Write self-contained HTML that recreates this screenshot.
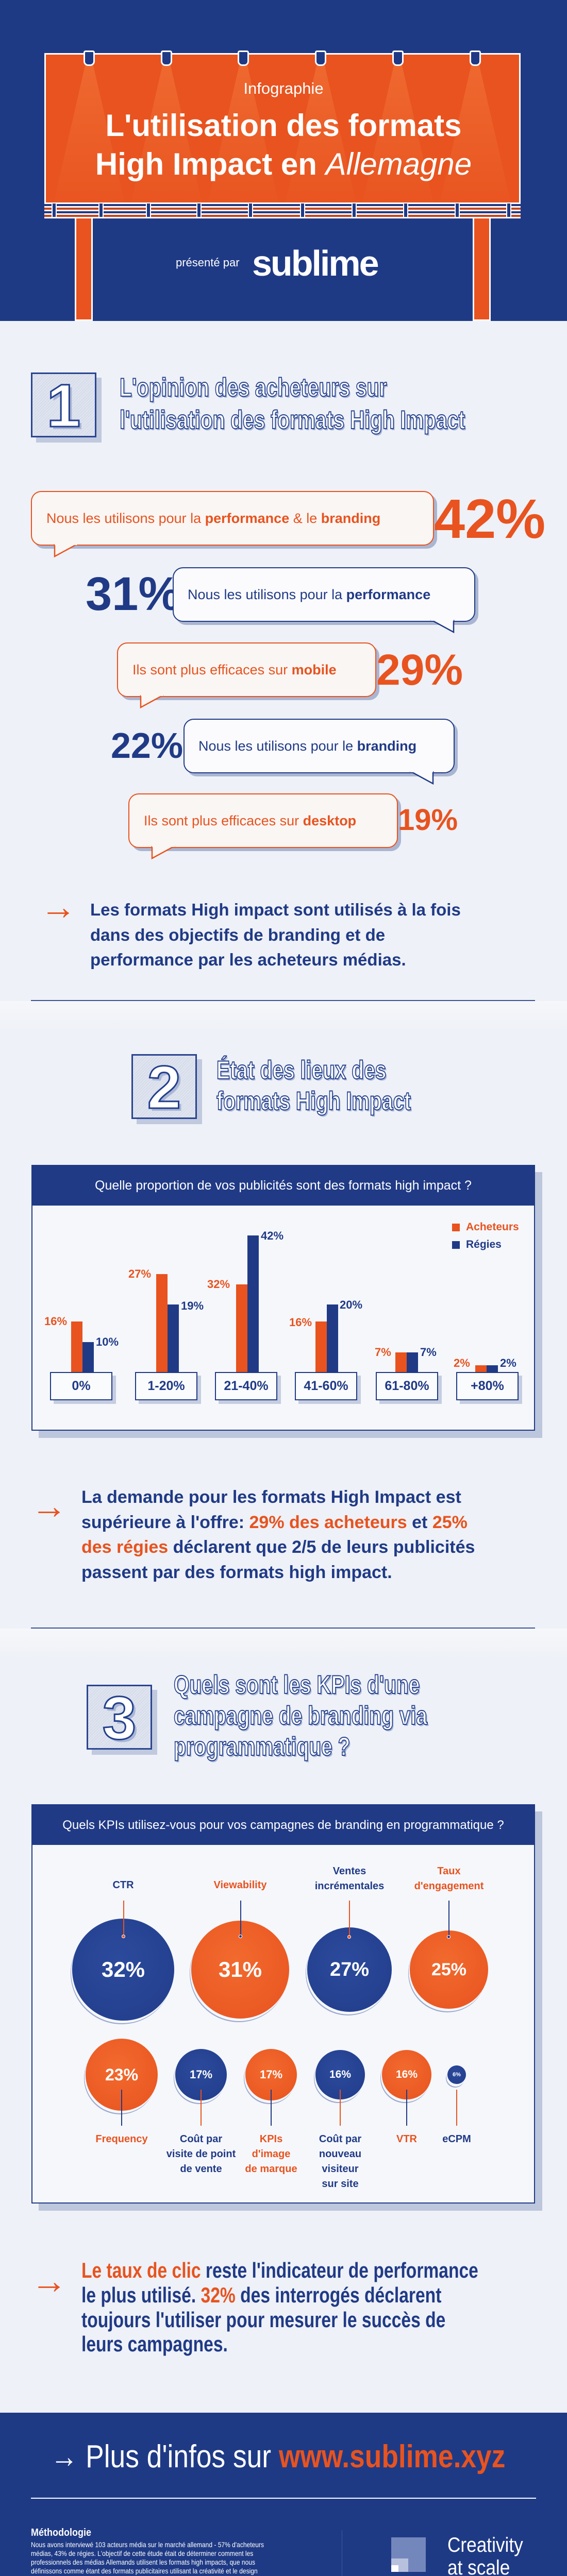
<!DOCTYPE html>
<html><head><meta charset="utf-8">
<style>
*{margin:0;padding:0;box-sizing:border-box}
html{width:1100px;height:5079px;overflow:hidden}
body{width:1100px;height:5079px;position:relative;overflow:hidden;font-family:"Liberation Sans",sans-serif;background:#eef1f7}
.a{position:absolute}
.nw{white-space:nowrap}
.blue{color:#203a86}.or{color:#e8531f}
.hero{left:0;top:0;width:1100px;height:623px;background:#1f3a85}
.bb{left:86px;top:103px;width:924px;height:321px;background:#e8531f;border:3px solid #fff}
.lamp{width:22px;height:30px;background:#1f3a85;border:3px solid #fff;border-radius:4px 4px 9px 9px;top:98px}
.cone{top:125px;width:150px;height:295px;background:linear-gradient(#f47a3c,rgba(240,110,50,0));clip-path:polygon(45% 0,55% 0,100% 100%,0 100%);opacity:.55}
.band{left:86px;top:393px;width:924px;height:30px;background:repeating-linear-gradient(#fff 0 3px,#1f3a85 3px 7px,#fff 7px 10px,#c8441b 10px 14px)}
.post{top:393px;width:10px;height:30px;background:#1f3a85;border:2px solid #fff}
.leg{top:424px;width:35px;height:199px;background:#e8531f;border:3px solid #fff;border-top:none}
.nbox{width:127px;height:126px;border:3px solid #2a4590;background:repeating-linear-gradient(135deg,#dfe4ef 0 3px,#cfd6e7 3px 4px);box-shadow:10px 10px 0 #c0c9de}
.nbox span{position:absolute;left:0;right:0;text-align:center;top:2px;font-size:118px;font-weight:900;color:#fff;-webkit-text-stroke:3px #233f8c;text-shadow:5px 5px 0 #a9b6d6;line-height:120px}
.ttl{font-weight:900;color:#fff;-webkit-text-stroke:2px #233f8c;text-shadow:3px 3px 0 #a9b6d6;font-size:50px;line-height:50px;transform-origin:left center}
.bub{height:106px;border-radius:20px;border:2.5px solid;background:#faf6f3;display:flex;align-items:center;font-size:27px;white-space:nowrap}
.bo{border-color:#e8531f;color:#e8531f;box-shadow:6px 6px 0 #aab5d2}
.bl{border-color:#203a86;color:#203a86;background:#fbfbfd;box-shadow:6px 6px 0 #aab5d2}
.pct{font-weight:700;line-height:1}
.card{left:61px;width:977px;border:2px solid #203a86;background:#f5f7fb;box-shadow:14px 14px 0 #bcc6dc}
.chd{background:#203a86;color:#fff;font-size:25px;text-align:center;display:flex;align-items:center;justify-content:center}
.bar{width:22px}
.lb{font-size:22px;font-weight:700;line-height:22px}
.xb{top:2663px;height:55px;border:2px solid #203a86;background:#fafbfd;box-shadow:7px 7px 0 #c5cde0;color:#203a86;font-weight:700;font-size:25px;display:flex;align-items:center;justify-content:center}
.bt{font-weight:700;color:#203a86;white-space:nowrap;transform-origin:left center}
.arr{font-size:70px;color:#e8531f;font-weight:700;line-height:1}
.c{border-radius:50%;display:flex;align-items:center;justify-content:center;color:#fff;font-weight:700;box-shadow:-2px 5px 0 #f5f7fb,-3px 7px 0 #9aa8cc}
.cb{background:radial-gradient(circle at 45% 40%,#2c4a9c,#213c8a)}
.co{background:radial-gradient(circle at 45% 40%,#f26a2e,#e8531f)}
.kl{font-weight:700;font-size:20px;text-align:center;line-height:29px;white-space:nowrap;transform:translateX(-50%)}
.vl{width:2px}
.dot{width:7px;height:7px;border-radius:50%;border:1.5px solid #fff}
</style></head><body>

<div class="a hero"></div>
<div class="a leg" style="left:145px"></div>
<div class="a leg" style="left:917px"></div>
<div class="a bb"></div>
<div class="a cone" style="left:98px"></div>
<div class="a cone" style="left:248px"></div>
<div class="a cone" style="left:397px"></div>
<div class="a cone" style="left:547px"></div>
<div class="a cone" style="left:697px"></div>
<div class="a cone" style="left:847px"></div>
<div class="a lamp" style="left:162px"></div>
<div class="a lamp" style="left:312px"></div>
<div class="a lamp" style="left:461px"></div>
<div class="a lamp" style="left:611px"></div>
<div class="a lamp" style="left:761px"></div>
<div class="a lamp" style="left:911px"></div>
<div class="a band"></div>
<div class="a post" style="left:100px"></div><div class="a post" style="left:191px"></div><div class="a post" style="left:283px"></div><div class="a post" style="left:381px"></div><div class="a post" style="left:481px"></div><div class="a post" style="left:582px"></div><div class="a post" style="left:682px"></div><div class="a post" style="left:782px"></div><div class="a post" style="left:882px"></div><div class="a post" style="left:982px"></div>
<div class="a nw" style="left:0;width:1100px;text-align:center;top:154px;font-size:31px;color:#fff">Infographie</div>
<div class="a nw" style="left:0;width:1100px;text-align:center;top:206px;font-size:60px;line-height:75px;color:#fff;font-weight:700">L'utilisation des formats<br>High Impact en <i style="font-weight:400">Allemagne</i></div>
<div class="a nw" style="left:341px;top:497px;font-size:22px;color:#fff">présenté par</div>
<div class="a nw" style="left:489px;top:474px;font-size:70px;color:#fff;font-weight:700;letter-spacing:-3px;line-height:74px">sublime</div>

<div class="a nbox" style="left:60px;top:723px"><span>1</span></div>
<div class="a nw ttl" style="left:232px;top:727px;transform:scaleX(0.78)">L'opinion des acheteurs sur</div>
<div class="a nw ttl" style="left:232px;top:790px;transform:scaleX(0.78)">l'utilisation des formats High Impact</div>

<div class="a bub bo" style="left:60px;top:953px;width:782px;padding-left:28px">Nous les utilisons pour la&nbsp;<b>performance</b>&nbsp;&amp; le&nbsp;<b>branding</b></div>
<svg class="a" style="left:100px;top:1056px" width="60" height="30"><polygon points="6,0 6,24 50,0" fill="#faf6f3" stroke="#e8531f" stroke-width="2.5"/><line x1="6" y1="0" x2="50" y2="0" stroke="#faf6f3" stroke-width="4"/></svg>
<div class="a pct or nw" style="left:842px;top:953px;font-size:108px">42%</div>

<div class="a pct blue nw" style="left:166px;top:1107px;font-size:92px">31%</div>
<div class="a bub bl" style="left:335px;top:1101px;width:587px;padding-left:27px">Nous les utilisons pour la&nbsp;<b>performance</b></div>
<svg class="a" style="left:830px;top:1203px" width="60" height="30"><polygon points="50,0 50,24 6,0" fill="#fbfbfd" stroke="#203a86" stroke-width="2.5"/><line x1="6" y1="0" x2="50" y2="0" stroke="#fbfbfd" stroke-width="4"/></svg>

<div class="a bub bo" style="left:227px;top:1247px;width:503px;padding-left:28px">Ils sont plus efficaces sur&nbsp;<b>mobile</b></div>
<svg class="a" style="left:267px;top:1349px" width="60" height="30"><polygon points="6,0 6,24 50,0" fill="#faf6f3" stroke="#e8531f" stroke-width="2.5"/><line x1="6" y1="0" x2="50" y2="0" stroke="#faf6f3" stroke-width="4"/></svg>
<div class="a pct or nw" style="left:730px;top:1258px;font-size:84px">29%</div>

<div class="a pct blue nw" style="left:215px;top:1412px;font-size:70px">22%</div>
<div class="a bub bl" style="left:356px;top:1395px;width:526px;padding-left:27px">Nous les utilisons pour le&nbsp;<b>branding</b></div>
<svg class="a" style="left:790px;top:1497px" width="60" height="30"><polygon points="50,0 50,24 6,0" fill="#fbfbfd" stroke="#203a86" stroke-width="2.5"/><line x1="6" y1="0" x2="50" y2="0" stroke="#fbfbfd" stroke-width="4"/></svg>

<div class="a bub bo" style="left:249px;top:1540px;width:523px;padding-left:28px">Ils sont plus efficaces sur&nbsp;<b>desktop</b></div>
<svg class="a" style="left:289px;top:1642px" width="60" height="30"><polygon points="6,0 6,24 50,0" fill="#faf6f3" stroke="#e8531f" stroke-width="2.5"/><line x1="6" y1="0" x2="50" y2="0" stroke="#faf6f3" stroke-width="4"/></svg>
<div class="a pct or nw" style="left:772px;top:1563px;font-size:58px">19%</div>

<div class="a arr" style="left:78px;top:1725px">→</div>
<div class="a bt" style="left:175px;top:1742px;font-size:33px;line-height:48.5px">Les formats High impact sont utilisés à la fois<br>dans des objectifs de branding et de<br>performance par les acheteurs médias.</div>

<div class="a" style="left:60px;top:1941px;width:978px;height:2px;background:#3a5397"></div>
<div class="a" style="left:0;top:1943px;width:1100px;height:60px;background:linear-gradient(#f6f7fa,#eef1f7)"></div>

<div class="a nbox" style="left:255px;top:2046px"><span>2</span></div>
<div class="a nw ttl" style="left:420px;top:2052px;transform:scaleX(0.78)">État des lieux des</div>
<div class="a nw ttl" style="left:420px;top:2112px;transform:scaleX(0.78)">formats High Impact</div>

<div class="a card" style="top:2261px;height:516px">
 <div class="chd" style="height:77px">Quelle proportion de vos publicités sont des formats high impact ?</div>
</div>
<div class="a" style="left:877px;top:2375px;width:15px;height:15px;background:#e8531f"></div>
<div class="a or nw" style="left:904px;top:2370px;font-size:21px;font-weight:700">Acheteurs</div>
<div class="a" style="left:877px;top:2409px;width:15px;height:15px;background:#203a86"></div>
<div class="a blue nw" style="left:904px;top:2404px;font-size:21px;font-weight:700">Régies</div>

<div class="a bar" style="left:138px;top:2565px;height:98px;background:#e8531f"></div>
<div class="a bar" style="left:160px;top:2605px;height:58px;background:#203a86"></div>
<div class="a lb or nw" style="left:86px;top:2554px">16%</div>
<div class="a lb blue nw" style="left:186px;top:2594px">10%</div>

<div class="a bar" style="left:303px;top:2473px;height:190px;background:#e8531f"></div>
<div class="a bar" style="left:325px;top:2532px;height:131px;background:#203a86"></div>
<div class="a lb or nw" style="left:249px;top:2462px">27%</div>
<div class="a lb blue nw" style="left:351px;top:2524px">19%</div>

<div class="a bar" style="left:458px;top:2493px;height:170px;background:#e8531f"></div>
<div class="a bar" style="left:480px;top:2398px;height:265px;background:#203a86"></div>
<div class="a lb or nw" style="left:402px;top:2482px">32%</div>
<div class="a lb blue nw" style="left:506px;top:2388px">42%</div>

<div class="a bar" style="left:612px;top:2565px;height:98px;background:#e8531f"></div>
<div class="a bar" style="left:634px;top:2532px;height:131px;background:#203a86"></div>
<div class="a lb or nw" style="left:561px;top:2556px">16%</div>
<div class="a lb blue nw" style="left:659px;top:2522px">20%</div>

<div class="a bar" style="left:767px;top:2625px;height:38px;background:#e8531f"></div>
<div class="a bar" style="left:789px;top:2625px;height:38px;background:#203a86"></div>
<div class="a lb or nw" style="left:727px;top:2614px">7%</div>
<div class="a lb blue nw" style="left:815px;top:2614px">7%</div>

<div class="a bar" style="left:922px;top:2650px;height:13px;background:#e8531f"></div>
<div class="a bar" style="left:944px;top:2650px;height:13px;background:#203a86"></div>
<div class="a lb or nw" style="left:880px;top:2635px">2%</div>
<div class="a lb blue nw" style="left:970px;top:2635px">2%</div>

<div class="a xb" style="left:97px;width:121px">0%</div>
<div class="a xb" style="left:262px;width:121px">1-20%</div>
<div class="a xb" style="left:417px;width:121px">21-40%</div>
<div class="a xb" style="left:572px;width:121px">41-60%</div>
<div class="a xb" style="left:729px;width:121px">61-80%</div>
<div class="a xb" style="left:885px;width:121px">+80%</div>

<div class="a arr" style="left:60px;top:2888px">→</div>
<div class="a bt" style="left:158px;top:2882px;font-size:34px;line-height:48.5px">La demande pour les formats High Impact est<br>supérieure à l'offre: <span class="or">29% des acheteurs</span> et <span class="or">25%</span><br><span class="or">des régies</span> déclarent que 2/5 de leurs publicités<br>passent par des formats high impact.</div>

<div class="a" style="left:60px;top:3159px;width:978px;height:2px;background:#3a5397"></div>
<div class="a" style="left:0;top:3161px;width:1100px;height:60px;background:linear-gradient(#f6f7fa,#eef1f7)"></div>

<div class="a nbox" style="left:168px;top:3270px"><span>3</span></div>
<div class="a nw ttl" style="left:337px;top:3245px;transform:scaleX(0.78)">Quels sont les KPIs d'une</div>
<div class="a nw ttl" style="left:337px;top:3305px;transform:scaleX(0.78)">campagne de branding via</div>
<div class="a nw ttl" style="left:337px;top:3365px;transform:scaleX(0.78)">programmatique ?</div>

<div class="a card" style="top:3502px;height:775px">
 <div class="chd" style="height:77px;font-size:24px">Quels KPIs utilisez-vous pour vos campagnes de branding en programmatique ?</div>
</div>

<div class="a kl blue" style="left:239px;top:3645px">CTR</div>
<div class="a kl or" style="left:466px;top:3645px">Viewability</div>
<div class="a kl blue" style="left:678px;top:3618px">Ventes<br>incrémentales</div>
<div class="a kl or" style="left:871px;top:3618px">Taux<br>d'engagement</div>

<div class="a c cb" style="left:140px;top:3724px;width:198px;height:198px;font-size:42px">32%</div>
<div class="a c co" style="left:371px;top:3728px;width:190px;height:190px;font-size:42px">31%</div>
<div class="a c cb" style="left:596px;top:3741px;width:164px;height:164px;font-size:38px">27%</div>
<div class="a c co" style="left:795px;top:3747px;width:152px;height:152px;font-size:34px">25%</div>

<div class="a vl" style="left:239px;top:3689px;height:69px;background:#e8531f"></div>
<div class="a dot" style="left:236px;top:3755px;background:#e8531f"></div>
<div class="a vl" style="left:466px;top:3689px;height:69px;background:#203a86"></div>
<div class="a dot" style="left:463px;top:3755px;background:#203a86"></div>
<div class="a vl" style="left:677px;top:3689px;height:69px;background:#e8531f"></div>
<div class="a dot" style="left:674px;top:3756px;background:#e8531f"></div>
<div class="a vl" style="left:870px;top:3689px;height:69px;background:#203a86"></div>
<div class="a dot" style="left:867px;top:3756px;background:#203a86"></div>

<div class="a c co" style="left:166px;top:3957px;width:140px;height:140px;font-size:32px">23%</div>
<div class="a c cb" style="left:340px;top:3977px;width:100px;height:100px;font-size:22px">17%</div>
<div class="a c co" style="left:476px;top:3977px;width:100px;height:100px;font-size:22px">17%</div>
<div class="a c cb" style="left:612px;top:3979px;width:96px;height:96px;font-size:21px">16%</div>
<div class="a c co" style="left:741px;top:3979px;width:96px;height:96px;font-size:21px">16%</div>
<div class="a c cb" style="left:868px;top:4009px;width:36px;height:36px;font-size:11px">6%</div>

<div class="a vl" style="left:235px;top:4056px;height:70px;background:#203a86"></div>
<div class="a vl" style="left:389px;top:4056px;height:70px;background:#e8531f"></div>
<div class="a vl" style="left:525px;top:4056px;height:70px;background:#203a86"></div>
<div class="a vl" style="left:659px;top:4056px;height:70px;background:#e8531f"></div>
<div class="a vl" style="left:788px;top:4056px;height:70px;background:#203a86"></div>
<div class="a vl" style="left:885px;top:4056px;height:70px;background:#e8531f"></div>

<div class="a kl or" style="left:236px;top:4138px">Frequency</div>
<div class="a kl blue" style="left:390px;top:4138px">Coût par<br>visite de point<br>de vente</div>
<div class="a kl or" style="left:526px;top:4138px">KPIs<br>d'image<br>de marque</div>
<div class="a kl blue" style="left:660px;top:4138px">Coût par<br>nouveau<br>visiteur<br>sur site</div>
<div class="a kl or" style="left:789px;top:4138px">VTR</div>
<div class="a kl blue" style="left:886px;top:4138px">eCPM</div>

<div class="a arr" style="left:60px;top:4392px">→</div>
<div class="a bt" style="left:158px;top:4383px;font-size:42px;line-height:47.8px;transform:scaleX(0.8)"><span class="or">Le taux de clic</span> reste l'indicateur de performance<br>le plus utilisé. <span class="or">32%</span> des interrogés déclarent<br>toujours l'utiliser pour mesurer le succès de<br>leurs campagnes.</div>

<div class="a" style="left:0;top:4683px;width:1100px;height:396px;background:#1f3a85"></div>
<div class="a nw" style="left:98px;top:4734px;font-size:62px;color:#fff;line-height:70px;transform:scaleX(0.86);transform-origin:left center">→ Plus d'infos sur <b class="or">www.sublime.xyz</b></div>
<div class="a" style="left:60px;top:4848px;width:980px;height:2px;background:#fff"></div>
<div class="a nw" style="left:60px;top:4905px;font-size:20px;font-weight:700;color:#fff;transform:scaleX(0.9);transform-origin:left">Méthodologie</div>
<div class="a nw" style="left:60px;top:4931px;font-size:14px;line-height:17px;color:#fff;transform:scaleX(0.86);transform-origin:left top">Nous avons interviewé 103 acteurs média sur le marché allemand - 57% d'acheteurs<br>médias, 43% de régies. L'objectif de cette étude était de déterminer comment les<br>professionnels des médias Allemands utilisent les formats high impacts, que nous<br>définissons comme étant des formats publicitaires utilisant la créativité et le design<br>pour créer une expérience utilisateur améliorée, comparée aux formats IAB<br>standards.</div>
<div class="a" style="left:663px;top:4911px;width:1px;height:100px;background:#3d5599"></div>
<div class="a" style="left:759px;top:4925px;width:67px;height:67px;background:#7487bd"></div>
<div class="a" style="left:759px;top:4966px;width:33px;height:26px;background:#b7c1dd"></div>
<div class="a" style="left:759px;top:4979px;width:14px;height:13px;background:#fff"></div>
<div class="a nw" style="left:868px;top:4918px;font-size:40px;color:#fff;line-height:44px;transform:scaleX(0.88);transform-origin:left">Creativity<br>at scale</div>
</body></html>
